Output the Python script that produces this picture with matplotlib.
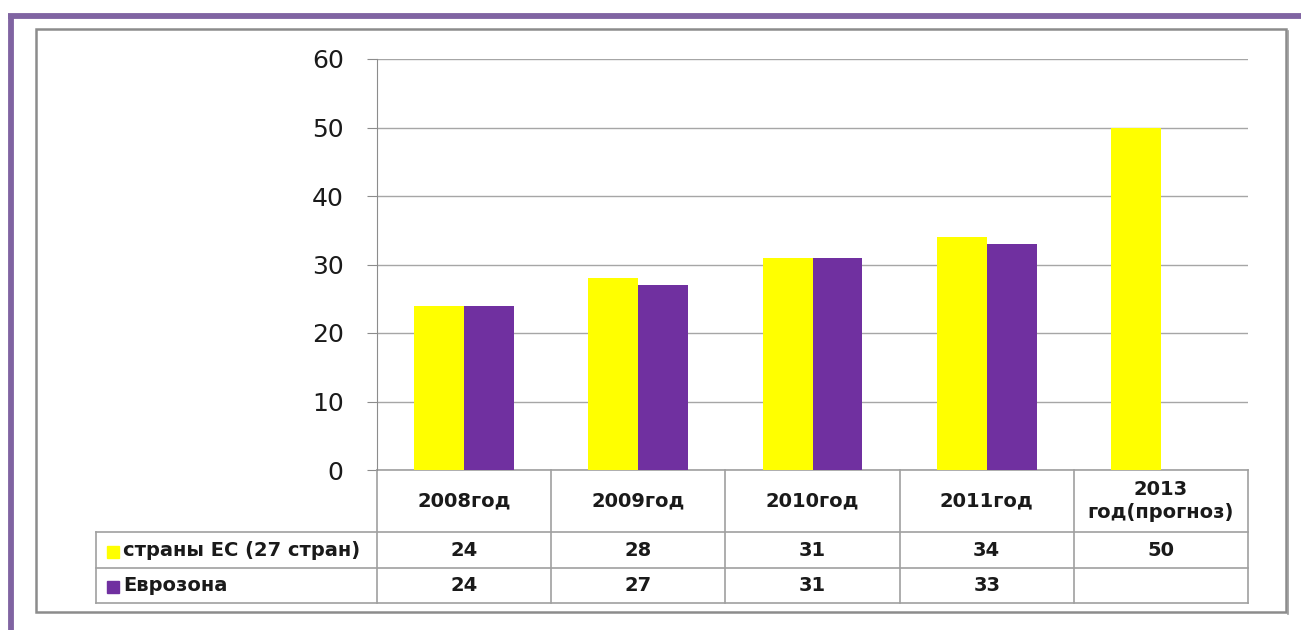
import matplotlib
matplotlib.use("Agg")
import matplotlib.pyplot as plt
from matplotlib.lines import Line2D
from matplotlib.patches import Rectangle

categories = ["2008год", "2009год", "2010год", "2011год", "2013\nгод(прогноз)"]
series_names = ["страны ЕС (27 стран)", "Еврозона"]
eu27 = [24, 28, 31, 34, 50]
eurozone = [24, 27, 31, 33, None]
yticks = [0, 10, 20, 30, 40, 50, 60]

YELLOW = "#FFFF00"
PURPLE = "#7030A0"
GRID = "#A6A6A6"
colors = [YELLOW, PURPLE]

W, H = 1301, 630
fig = plt.figure(figsize=(W / 100, H / 100), dpi=100)
plt.rcParams['font.family'] = ['DejaVu Sans']

def fx(px):
    return px / W

def fy(py):
    return 1 - py / H

# outer decorative frames
fig.add_artist(Line2D([fx(8), fx(1301)], [fy(16), fy(16)], color="#8064A2", lw=4.2,
                      solid_capstyle="butt"))
fig.add_artist(Line2D([fx(11), fx(11)], [fy(13.5), fy(630)], color="#8064A2", lw=4.2,
                      solid_capstyle="butt"))
fig.add_artist(Rectangle((fx(36), fy(612)), fx(1286 - 36), (612 - 29) / H,
                         fill=False, edgecolor="#8C8C8C", lw=1.8))
fig.add_artist(Line2D([fx(1287.5), fx(1287.5)], [fy(31), fy(614)], color="#9A9A9A", lw=1.2))

left, right, top, bottom = 377, 1248, 59, 470
ax = fig.add_axes([fx(left), fy(bottom), fx(right - left), (bottom - top) / H])

n = len(categories)
xs = list(range(n))
bw = 0.287
ax.bar([x - bw / 2 for x in xs], eu27, width=bw, color=YELLOW, zorder=3)
ez_x = [x + bw / 2 for x, v in zip(xs, eurozone) if v is not None]
ez_v = [v for v in eurozone if v is not None]
ax.bar(ez_x, ez_v, width=bw, color=PURPLE, zorder=3)

ax.set_xlim(-0.5, n - 0.5)
ax.set_ylim(0, 60)
ax.set_yticks(yticks)
ax.set_xticks([])
ax.grid(axis="y", color=GRID, lw=1.0, zorder=0)
for s in ["top", "right", "bottom"]:
    ax.spines[s].set_visible(False)
ax.spines["left"].set_color("#8C8C8C")
ax.tick_params(axis="y", length=7, color="#8C8C8C", labelsize=18, pad=17, labelcolor="#1a1a1a")

# data table
trans = ax.get_xaxis_transform()
ah = bottom - top

def ay(py):
    return -(py - bottom) / ah

row_y = [470, 532, 568, 603]
x_label_left = -0.5 - (left - 96) / ((right - left) / n)
lc = "#A0A0A0"
kw = dict(transform=trans, clip_on=False, color=lc, lw=1.2)
ax.add_line(Line2D([-0.5, n - 0.5], [ay(row_y[0])] * 2, **kw))
for ry in row_y[1:]:
    ax.add_line(Line2D([x_label_left, n - 0.5], [ay(ry)] * 2, **kw))
for i in range(n + 1):
    ax.add_line(Line2D([i - 0.5, i - 0.5], [ay(row_y[0]), ay(row_y[3])], **kw))
ax.add_line(Line2D([x_label_left, x_label_left], [ay(row_y[1]), ay(row_y[3])], **kw))

tfs = 14
for i, c in enumerate(categories):
    ax.text(i, ay((row_y[0] + row_y[1]) / 2), c, transform=trans, ha="center", va="center",
            fontsize=tfs, fontweight="bold", color="#1a1a1a", linespacing=1.25)

for r, (name, vals) in enumerate(zip(series_names, [eu27, eurozone])):
    yc = ay((row_y[r + 1] + row_y[r + 2]) / 2)
    for i, v in enumerate(vals):
        if v is not None:
            ax.text(i, yc, str(v), transform=trans, ha="center", va="center",
                    fontsize=tfs, fontweight="bold", color="#1a1a1a")
    sq_w = 12 / ((right - left) / n)
    sq_h = 12 / ah
    sx = x_label_left + 11 / ((right - left) / n)
    ax.add_patch(Rectangle((sx, yc - sq_h / 2 - 0.004), sq_w, sq_h, transform=trans,
                           clip_on=False, color=colors[r]))
    ax.text(sx + sq_w + 4 / ((right - left) / n), yc, name, transform=trans, ha="left",
            va="center", fontsize=tfs, fontweight="bold", color="#1a1a1a")

fig.savefig("out.png", dpi=100)
